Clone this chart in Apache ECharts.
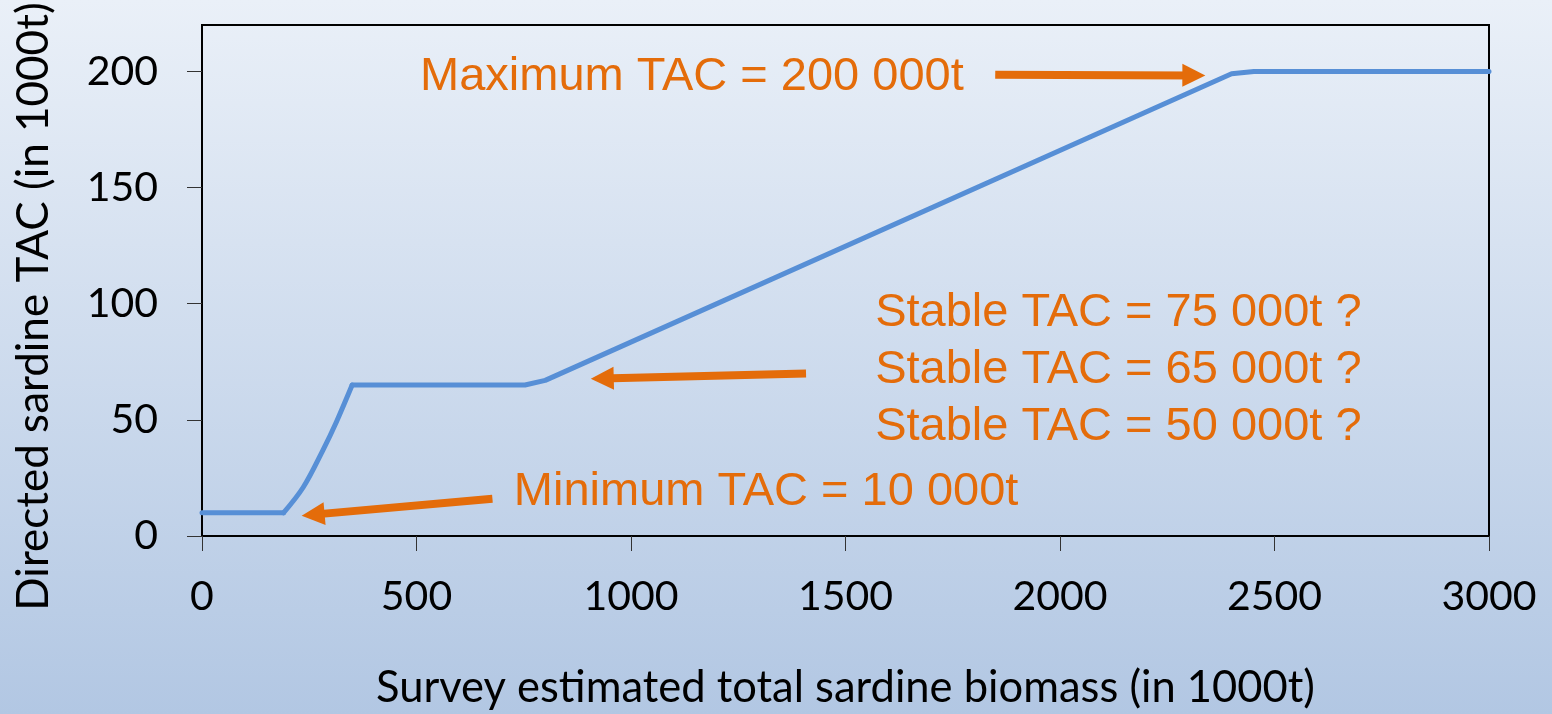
<!DOCTYPE html>
<html>
<head>
<meta charset="utf-8">
<script src="https://cdn.jsdelivr.net/npm/echarts@6/dist/echarts.min.js"></script>
<style>
html,body{margin:0;padding:0;width:1552px;height:714px;overflow:hidden;}
#c{width:1552px;height:714px;background:linear-gradient(to bottom,#eaf0f8 0%,#b2c7e3 100%);}
</style>
</head>
<body>
<div id="c"></div>
<script>
// Survey biomass (1000t) and directed TAC (1000t), split into the
// minimum plateau, the rising curve and the ramp to the maximum
const floorX = [0, 190];
const floorY = [10, 10];
const curveX = [190, 236, 282, 313, 350];
const curveY = [10, 21, 37, 49, 65];
const rampX = [350, 753, 800, 2400, 2452, 3000];
const rampY = [65, 65, 67, 199, 200, 200];

const xTitle = 'Survey estimated total sardine biomass (in 1000t)';
const yTitle = 'Directed sardine TAC (in 1000t)';

const maxText = 'Maximum TAC = 200 000t';
const stableTexts = ['Stable TAC = 75 000t ?', 'Stable TAC = 65 000t ?', 'Stable TAC = 50 000t ?'];
const minText = 'Minimum TAC = 10 000t';

// annotation anchor positions in data units
const maxTextAt = [1142, 197.8];
const stableTextAt = [2136, 71.5];
const minTextAt = [1315, 19];

// arrows: [tailX, tailY, headX, headY] in data units
const arrowMax = [1849, 198.6, 2312, 198.3];
const arrowStable = [1408, 70, 933, 67.8];
const arrowMin = [677, 16, 259, 9.2];

const orange = '#e46c0a';
const blue = '#578fd6';
const chart = echarts.init(document.getElementById('c'), null, {renderer: 'canvas'});

const arrows = [arrowMax, arrowStable, arrowMin].map(a => [
  {coord: [a[0], a[1]], symbol: 'none'},
  {coord: [a[2], a[3]], symbol: 'triangle', symbolSize: 23}
]);

const pairs = (xs, ys) => xs.map((x, i) => [x, ys[i]]);
const lineBase = {
  type: 'line', showSymbol: false, symbol: 'none', z: 3,
  lineStyle: {color: blue, width: 5, cap: 'round', join: 'round'}
};

chart.setOption({
  backgroundColor: 'transparent',
  animation: false,
  grid: {left: 202, right: 63, top: 25, bottom: 178, show: true, borderColor: '#000', borderWidth: 2,
         backgroundColor: 'transparent', outerBoundsMode: 'none', containLabel: false},
  xAxis: {
    type: 'value', min: 0, max: 3000, interval: 500,
    name: xTitle, nameLocation: 'middle', nameGap: 130,
    nameTextStyle: {fontFamily: 'Lato', fontSize: 43.5, color: '#000'},
    axisLine: {show: true, onZero: false, lineStyle: {color: '#000', width: 2}},
    axisTick: {show: true, inside: false, length: 15, lineStyle: {color: '#333', width: 1}},
    axisLabel: {fontFamily: 'Lato', fontSize: 41, color: '#000', margin: 40, formatter: v => String(v)},
    splitLine: {show: false}
  },
  yAxis: {
    type: 'value', min: 0, max: 220, interval: 50,
    name: yTitle, nameLocation: 'middle', nameGap: 146,
    nameTextStyle: {fontFamily: 'Lato', fontSize: 44, color: '#000', padding: [0, 52, 0, 0]},
    axisLine: {show: true, lineStyle: {color: '#000', width: 2}},
    axisTick: {show: true, inside: false, length: 15, lineStyle: {color: '#333', width: 1}},
    axisLabel: {fontFamily: 'Lato', fontSize: 41, color: '#000', margin: 44, showMaxLabel: false, formatter: v => String(v)},
    splitLine: {show: false}
  },
  series: [
    Object.assign({}, lineBase, {data: pairs(floorX, floorY)}),
    Object.assign({}, lineBase, {data: pairs(curveX, curveY), smooth: 0.35}),
    Object.assign({}, lineBase, {
      data: pairs(rampX, rampY),
      markLine: {
        silent: true,
        animation: false,
        lineStyle: {color: orange, width: 8, type: 'solid', opacity: 1},
        itemStyle: {color: orange},
        label: {show: false},
        emphasis: {disabled: true},
        data: arrows
      },
      markPoint: {
        silent: true,
        symbol: 'circle',
        symbolSize: 0,
        label: {show: true, position: 'inside', color: orange, fontFamily: 'Liberation Sans', fontSize: 47},
        data: [
          {coord: maxTextAt, label: {formatter: maxText}},
          {coord: stableTextAt, label: {formatter: stableTexts.join('\n'), lineHeight: 57}},
          {coord: minTextAt, label: {formatter: minText}}
        ]
      }
    })
  ]
});
</script>
</body>
</html>
